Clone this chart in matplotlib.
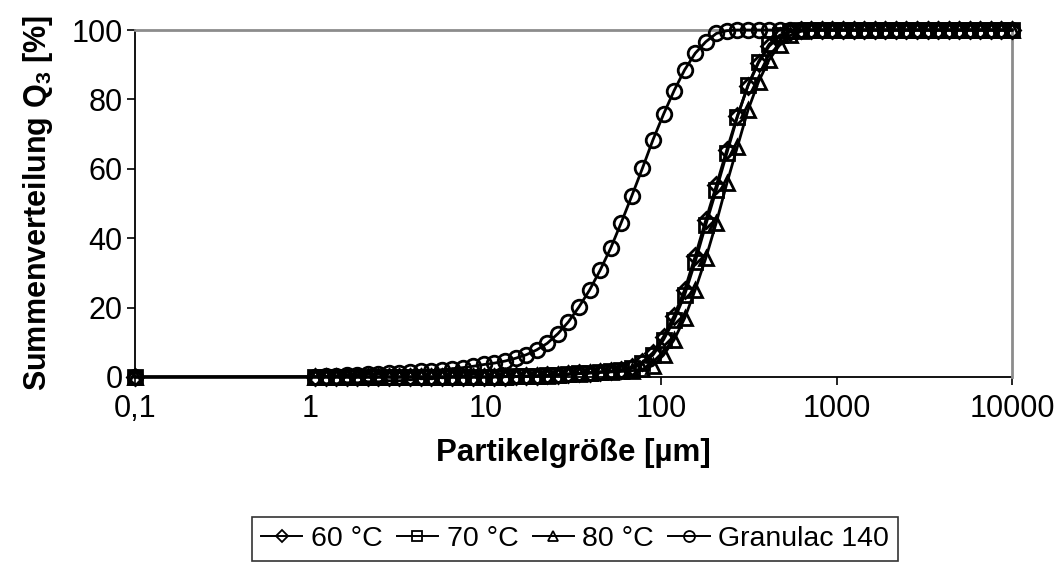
import matplotlib
matplotlib.use("Agg")
import matplotlib.pyplot as plt
from matplotlib.lines import Line2D
from matplotlib.ticker import FixedLocator, NullLocator

plt.rcParams['font.family'] = ['Liberation Sans', 'DejaVu Sans']
plt.rcParams['mathtext.fontset'] = 'custom'
plt.rcParams['mathtext.rm'] = 'Liberation Sans'
plt.rcParams['mathtext.bf'] = 'Liberation Sans:bold'

# particle size classes [µm]
size = [0.1, 1.06, 1.22, 1.40, 1.61, 1.85, 2.13, 2.44, 2.80, 3.22, 3.70,
        4.25, 4.88, 5.61, 6.44, 7.40, 8.50, 9.77, 11.2, 12.9, 14.8,
        17.0, 19.5, 22.4, 25.8, 29.6, 34.0, 39.1, 44.9, 51.5, 59.2,
        68.0, 78.1, 89.7, 103.1, 118.4, 136.0, 156.3, 179.5, 206.2, 236.8,
        272.1, 312.5, 359.0, 412.3, 473.7, 544.1, 625.0, 717.9, 824.7, 947.3,
        1088, 1250, 1436, 1649, 1895, 2176, 2500, 2872, 3299, 3789,
        4353, 5000, 5743, 6598, 7579, 8706, 10000]

q3_60 = [0, 0, 0, 0, 0, 0, 0, 0, 0, 0, 0,
         0, 0, 0, 0, 0, 0, 0, 0.05, 0.1, 0.15,
         0.2, 0.3, 0.45, 0.65, 0.85, 1.05, 1.25, 1.45, 1.7, 2.1,
         2.8, 4.3, 7.0, 11.6, 17.6, 25.1, 34.8, 45.2, 55.2, 65.5,
         75.3, 83.9, 90.6, 95.3, 98.2, 99.5, 100, 100, 100, 100,
         100, 100, 100, 100, 100, 100, 100, 100, 100, 100,
         100, 100, 100, 100, 100, 100, 100]

q3_70 = [0, 0, 0, 0, 0, 0, 0, 0, 0, 0, 0,
         0, 0, 0, 0, 0, 0, 0, 0.05, 0.1, 0.15,
         0.2, 0.3, 0.45, 0.65, 0.85, 1.05, 1.25, 1.45, 1.6, 2.0,
         2.5, 3.9, 6.3, 10.7, 16.4, 23.6, 33.2, 43.8, 53.9, 64.5,
         75.0, 84.1, 90.9, 95.9, 98.5, 99.6, 100, 100, 100, 100,
         100, 100, 100, 100, 100, 100, 100, 100, 100, 100,
         100, 100, 100, 100, 100, 100, 100]

q3_80 = [0, 0, 0, 0, 0, 0, 0, 0, 0, 0, 0,
         0, 0, 0, 0, 0, 0, 0, 0.05, 0.1, 0.15,
         0.2, 0.3, 0.4, 0.55, 0.75, 0.95, 1.1, 1.3, 1.45, 1.6,
         1.8, 2.2, 3.3, 6.3, 10.7, 16.9, 25.1, 34.2, 44.5, 55.8,
         66.4, 76.9, 85.1, 91.4, 95.7, 98.5, 99.6, 100, 100, 100,
         100, 100, 100, 100, 100, 100, 100, 100, 100, 100,
         100, 100, 100, 100, 100, 100, 100]

q3_granulac = [0, 0.1, 0.2, 0.35, 0.5, 0.65, 0.8, 0.95, 1.1, 1.25, 1.4,
               1.6, 1.8, 2.1, 2.4, 2.7, 3.1, 3.6, 4.0, 4.6, 5.4,
               6.4, 7.8, 9.7, 12.5, 15.9, 20.2, 25.1, 30.8, 37.1, 44.5,
               52.2, 60.1, 68.3, 75.7, 82.5, 88.5, 93.3, 96.6, 99.0, 99.8,
               100, 100, 100, 100, 100, 100, 100, 100, 100, 100,
               100, 100, 100, 100, 100, 100, 100, 100, 100, 100,
               100, 100, 100, 100, 100, 100, 100]

series = [("60 °C", q3_60, "D"), ("70 °C", q3_70, "s"),
          ("80 °C", q3_80, "^"), ("Granulac 140", q3_granulac, "o")]
msize = {"D": 8.5, "s": 9.5, "^": 10, "o": 10.5}

fig = plt.figure(figsize=(10.58, 5.63), dpi=100)
ax = fig.add_axes([0.1276, 0.3304, 0.8289, 0.6163])

handles = []
for label, q3, m in series:
    ax.plot(size, q3, color="black", lw=2.0, marker=m, ms=msize[m],
            mfc="none", mec="black", mew=2.0, clip_on=False, zorder=3)
    handles.append(Line2D([], [], color="black", lw=1.4, marker=m,
                          ms=msize[m] * 0.75, mfc="none", mec="black", mew=1.3))

ax.set_xscale("log")
ax.set_xlim(0.1, 10000)
ax.set_ylim(0, 100)
ax.xaxis.set_major_locator(FixedLocator([0.1, 1, 10, 100, 1000, 10000]))
ax.xaxis.set_minor_locator(NullLocator())
ax.set_xticklabels(["0,1", "1", "10", "100", "1000", "10000"])
ax.set_yticks([0, 20, 40, 60, 80, 100])

for s in ["top", "right"]:
    ax.spines[s].set_color("#8c8c8c")
    ax.spines[s].set_linewidth(2)
for s in ["left", "bottom"]:
    ax.spines[s].set_color("black")
    ax.spines[s].set_linewidth(1.3)
    ax.spines[s].set_zorder(2)

ax.tick_params(axis="both", direction="out", length=6, width=1.2,
               labelsize=22, color="black")
ax.tick_params(axis="x", pad=6)
ax.tick_params(axis="y", pad=3)

ax.set_xlabel("Partikelgröße [µm]", fontsize=22.5, fontweight="bold", labelpad=10)
ax.set_ylabel(r"Summenverteilung $\mathbf{Q_3}$ [%]", fontsize=22,
              fontweight="bold", labelpad=12)

leg = fig.legend(handles, [s[0] for s in series], loc="center",
                 bbox_to_anchor=(0.5435, 0.0426), ncol=4, fontsize=20.5,
                 frameon=True, fancybox=False, edgecolor="black",
                 handlelength=1.45, handletextpad=0.3, columnspacing=0.5,
                 borderpad=0.3, borderaxespad=0)
leg.get_frame().set_linewidth(1.2)

fig.savefig("out.png", dpi=100)
